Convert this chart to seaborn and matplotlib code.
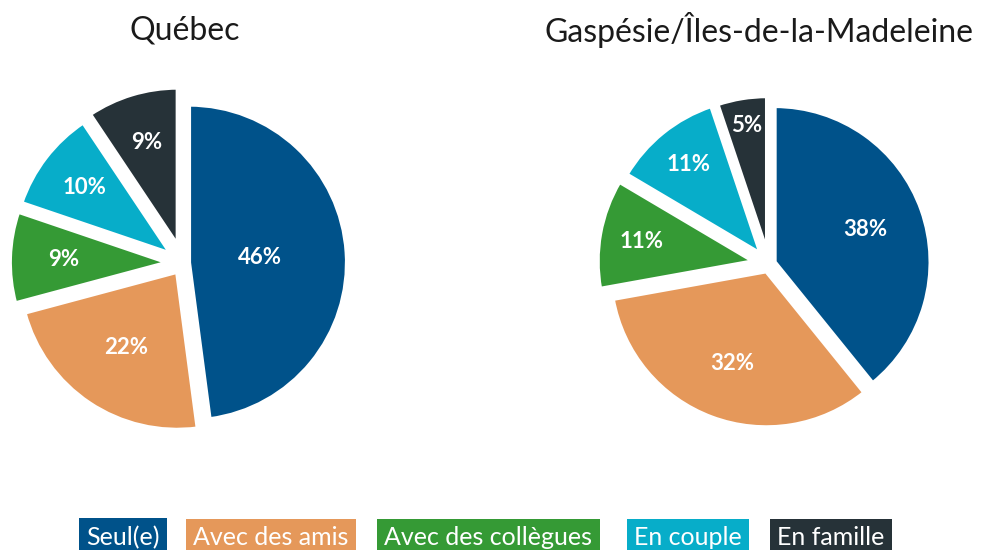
import numpy as np
import seaborn as sns
import matplotlib.pyplot as plt

sns.set_style("white")
plt.rcParams['font.family'] = ['Lato', 'DejaVu Sans']

# données
categories = ["Seul(e)", "Avec des amis", "Avec des collègues", "En couple", "En famille"]
quebec = [46, 22, 9, 10, 9]
gaspesie = [38, 32, 11, 11, 5]
titles = ["Québec", "Gaspésie/Îles-de-la-Madeleine"]

colors = ["#00528A", "#E5985A", "#359A35", "#07ADC9", "#263238"]
palette = sns.color_palette(colors)

W, H = 985, 550
fig = plt.figure(figsize=(W / 100, H / 100), dpi=100)

LIM = 1.2
# mise en page : centre (px), rayon (px), décalage des parts, rayon des étiquettes, x du titre
pies = [
    dict(vals=quebec, cx=183, cy=263, r=158,
         explode=[0.038, 0.067, 0.096, 0.096, 0.115],
         lab_r=[0.45, 0.58, 0.66, 0.69, 0.68], tx=185),
    dict(vals=gaspesie, cx=769, cy=264, r=156,
         explode=[0.038, 0.05, 0.10, 0.083, 0.077],
         lab_r=[0.62, 0.63, 0.73, 0.74, 0.82], tx=759),
]

for p, title in zip(pies, titles):
    h = LIM * p["r"]
    ax = fig.add_axes([(p["cx"] - h) / W, (H - p["cy"] - h) / H, 2 * h / W, 2 * h / H])
    wedges, _ = ax.pie(
        p["vals"], colors=palette, startangle=90, counterclock=False,
        explode=p["explode"],
        wedgeprops=dict(edgecolor="white", linewidth=3),
    )
    for w, v, lr in zip(wedges, p["vals"], p["lab_r"]):
        mid = np.deg2rad((w.theta1 + w.theta2) / 2)
        x0, y0 = w.center
        ax.text(x0 + lr * np.cos(mid), y0 + lr * np.sin(mid), f"{v}%",
                ha="center", va="center", color="white",
                fontsize=16, fontweight="bold")
    ax.set_xlim(-LIM, LIM)
    ax.set_ylim(-LIM, LIM)
    ax.set_aspect("equal")
    ax.axis("off")
    fig.text(p["tx"] / W, 1 - 30 / H, title, ha="center", va="center",
             fontsize=23, color="#1a1a1a")

# légende en boîtes colorées
leg_x = [86, 193, 384, 634, 777]
for lx, cat, col in zip(leg_x, categories, colors):
    fig.text(lx / W, 1 / H, cat, ha="left", va="bottom", color="white",
             fontsize=18,
             bbox=dict(boxstyle="square,pad=0.3", facecolor=col, edgecolor="none"))

fig.savefig("out.png", dpi=100, facecolor="white")
